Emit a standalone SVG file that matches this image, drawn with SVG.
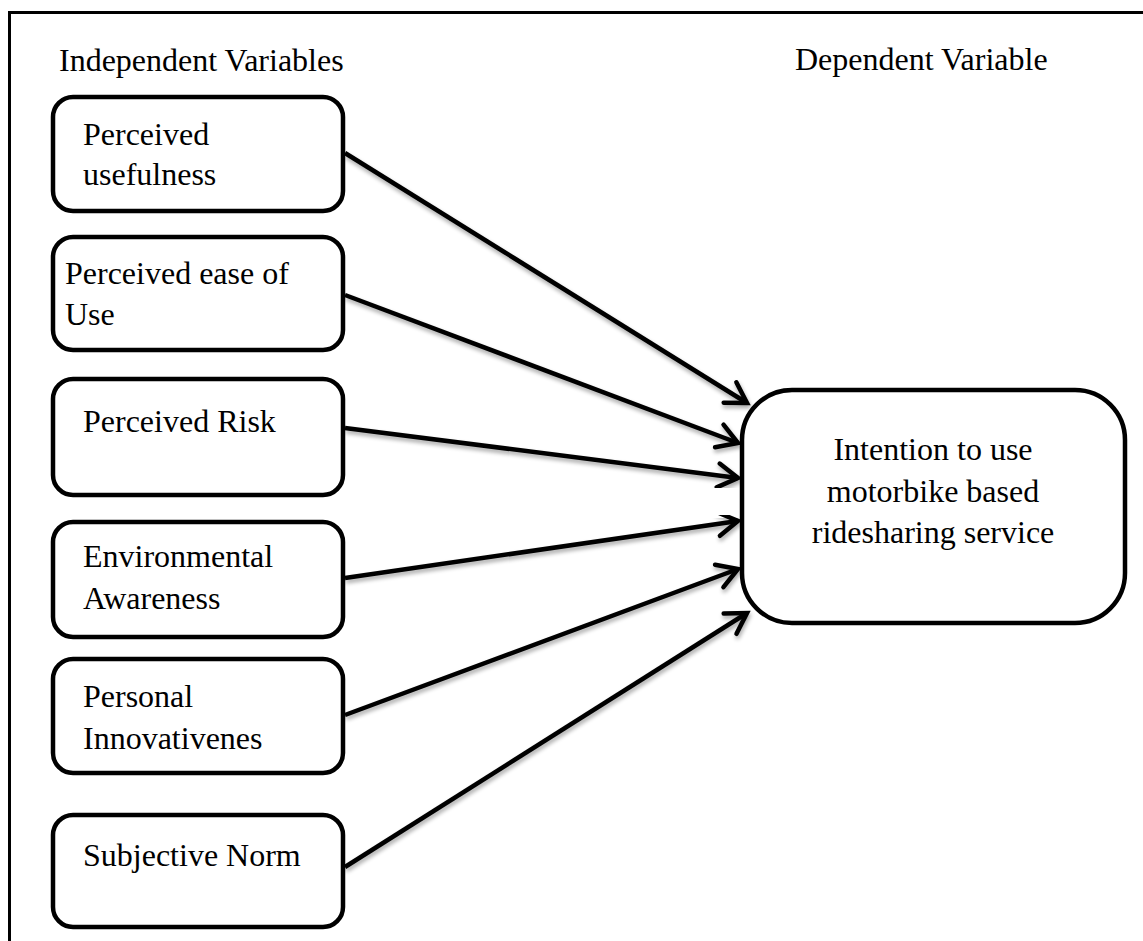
<svg xmlns="http://www.w3.org/2000/svg" width="1143" height="941" viewBox="0 0 1143 941">
<style>
.box{fill:#fff;stroke:#000;stroke-width:4.5}
.t{font-family:"Liberation Serif","Times New Roman",serif;font-size:32px;fill:#000}
.c{stroke:#000;stroke-width:4.5;fill:none;marker-end:url(#ah);filter:url(#sh)}
</style>
<defs>
<marker id="ah" markerUnits="userSpaceOnUse" markerWidth="40" markerHeight="40" viewBox="-30 -20 40 40" refX="0" refY="0" orient="auto">
<path d="M -20 -12 L 0 0 L -20 12" fill="none" stroke="#000" stroke-width="4.5" stroke-linecap="round" stroke-linejoin="miter"/>
</marker>
<filter id="sh" x="-10%" y="-10%" width="120%" height="130%">
<feGaussianBlur in="SourceAlpha" stdDeviation="2"/>
<feOffset dx="1" dy="3" result="b"/>
<feComponentTransfer><feFuncA type="linear" slope="0.35"/></feComponentTransfer>
<feMerge><feMergeNode/><feMergeNode in="SourceGraphic"/></feMerge>
</filter>
</defs>
<rect width="1143" height="941" fill="#fff"/>
<path d="M 9.5 941 V 12.5 H 1143" fill="none" stroke="#000" stroke-width="3"/>
<text class="t" x="59" y="71">Independent Variables</text>
<text class="t" x="795" y="70">Dependent Variable</text>
<g id="connectors">
<line class="c" x1="345" y1="153" x2="747" y2="403"/>
<line class="c" x1="345" y1="295" x2="738" y2="443"/>
<line class="c" x1="345" y1="428" x2="738" y2="478"/>
<line class="c" x1="345" y1="578" x2="738" y2="521"/>
<line class="c" x1="345" y1="715" x2="738" y2="569"/>
<line class="c" x1="345" y1="867" x2="747" y2="613"/>
</g>
<g id="n1"><rect class="box" x="53" y="97" width="290" height="114" rx="20"/>
<text class="t" x="83" y="145">Perceived</text><text class="t" x="83" y="185">usefulness</text></g>
<g id="n2"><rect class="box" x="53" y="237" width="290" height="113" rx="20"/>
<text class="t" x="65" y="284">Perceived ease of</text><text class="t" x="65" y="325">Use</text></g>
<g id="n3"><rect class="box" x="53" y="379" width="290" height="116" rx="20"/>
<text class="t" x="83" y="432">Perceived Risk</text></g>
<g id="n4"><rect class="box" x="53" y="522" width="290" height="115" rx="20"/>
<text class="t" x="83" y="567">Environmental</text><text class="t" x="83" y="609">Awareness</text></g>
<g id="n5"><rect class="box" x="53" y="659" width="290" height="114" rx="20"/>
<text class="t" x="83" y="707">Personal</text><text class="t" x="83" y="749">Innovativenes</text></g>
<g id="n6"><rect class="box" x="53" y="815" width="290" height="112" rx="20"/>
<text class="t" x="83" y="866">Subjective Norm</text></g>
<g id="n7"><rect class="box" x="742" y="390" width="383" height="233" rx="50"/>
<text class="t" x="933" y="460" text-anchor="middle">Intention to use</text>
<text class="t" x="933" y="502" text-anchor="middle">motorbike based</text>
<text class="t" x="933" y="543" text-anchor="middle">ridesharing service</text></g>
</svg>
